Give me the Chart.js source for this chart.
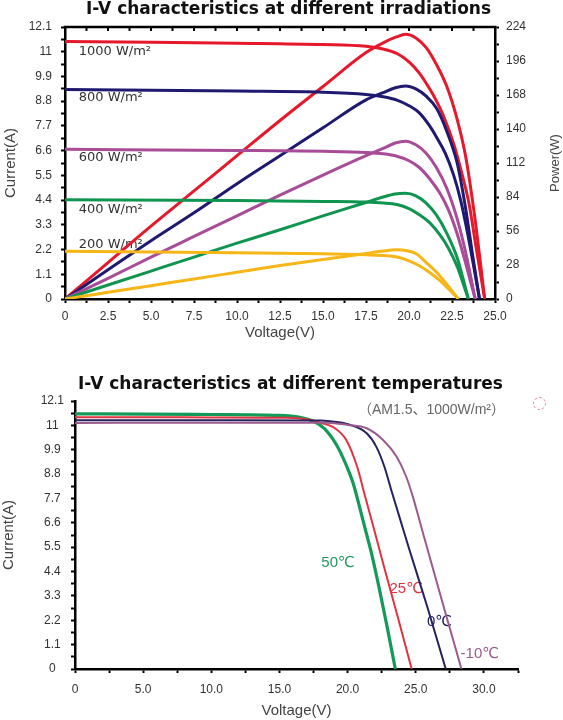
<!DOCTYPE html>
<html><head><meta charset="utf-8">
<script src="https://cdn.jsdelivr.net/npm/chart.js@4.4.1/dist/chart.umd.min.js"></script>
<style>
html,body{margin:0;padding:0;background:#fff;}
#wrap{position:relative;width:563px;height:720px;overflow:hidden;background:#fff;}
.title{position:absolute;left:0;width:563px;box-sizing:border-box;text-align:center;font-weight:bold;font-size:17px;font-family:'DejaVu Sans',sans-serif;line-height:17px;color:#111;white-space:nowrap;}
#t1{top:0;padding-left:14px;}
#t2{top:375px;padding-left:18px;}
#sub{position:absolute;left:358px;top:401px;font-size:14px;line-height:16px;font-family:'Liberation Sans','Noto Sans CJK SC',sans-serif;color:#666;white-space:nowrap;}
#circ{position:absolute;left:533px;top:397px;width:11px;height:11px;border:1px dashed #e58a98;border-radius:50%;}
canvas{position:absolute;left:0;}
#c1{top:0;} #c2{top:345px;}
</style></head>
<body><div id="wrap">
<canvas id="c1" width="563" height="345"></canvas>
<canvas id="c2" width="563" height="375"></canvas>
<div class="title" id="t1">I-V characteristics at different irradiations</div>
<div class="title" id="t2">I-V characteristics at different temperatures</div>
<div id="sub">（AM1.5、1000W/m²）</div>
<div id="circ"></div>
</div>
<script>
// ---------- Tick labels ----------
const voltTicks1 = ['0','2.5','5.0','7.5','10.0','12.5','15.0','17.5','20.0','22.5','25.0'];
const currTicks  = ['0','1.1','2.2','3.3','4.4','5.5','6.6','7.7','8.8','9.9','11','12.1'];
const powerTicks = ['0','28','56','84','112','140','168','196','224'];
const voltTicks2 = ['0','5.0','10.0','15.0','20.0','25.0','30.0'];

// ---------- Chart 1: irradiation, current (A) ----------
const v1000 = [0,5,10,15,17.5,18.5,19.3,20,20.6,21.2,21.6,22,22.6,23,23.5,23.9,24.15,24.4];
const i1000 = [11.45,11.42,11.38,11.32,11.24,11.12,10.92,10.55,10.05,9.35,8.8,8.15,6.9,5.8,4.2,2.3,1.15,0];
const v800  = [0,10,15,17.5,18.5,19.3,20,20.6,21.2,21.6,22.1,22.6,23,23.4,23.75,24.1];
const i800  = [9.32,9.25,9.2,9.1,9.0,8.85,8.6,8.28,7.7,7.2,6.5,5.5,4.4,2.95,1.5,0];
const v600  = [0,10,15,17.5,18.5,19.3,20,20.6,21.2,21.8,22.3,22.8,23.2,23.5,23.85];
const i600  = [6.66,6.61,6.57,6.52,6.46,6.35,6.15,5.85,5.35,4.7,3.95,2.9,1.85,1.0,0];
const v400  = [0,10,15,17.5,18.5,19.3,20,20.6,21.2,21.8,22.3,22.8,23.1,23.45];
const i400  = [4.41,4.38,4.34,4.31,4.27,4.2,4.02,3.75,3.4,2.85,2.25,1.45,0.8,0];
const v200  = [0,10,15,17.5,18.5,19.3,20,20.6,21.2,21.8,22.3,22.87];
const i200  = [2.12,2.06,2.01,1.97,1.93,1.87,1.7,1.48,1.18,0.82,0.45,0];

// ---------- Chart 1: irradiation, power (W) ----------
const pv1000 = [0,2.5,5,7.5,10,12.5,15,17.5,18.5,19.3,19.8,20.4,21,21.6,22.2,22.8,23.3,23.8,24.1,24.4];
const p1000  = [0,30,60,89,118,147,175,203,211,216,218,215,207,193,175,148,117,70,36,0];
const pv800  = [0,2.5,5,7.5,10,12.5,15,17.5,18.5,19.2,19.8,20.4,21,21.6,22.2,22.8,23.3,23.7,24.1];
const p800   = [0,24,48,71,95,118,141,164,170,174,175.5,173,167,157,138,112,74,36,0];
const pv600  = [0,2.5,5,7.5,10,12.5,15,17.5,18.5,19.2,19.8,20.4,21,21.6,22.2,22.8,23.3,23.85];
const p600   = [0,17,34.5,51.5,68.5,85.5,102,118,124,128.5,130,127,120,108,91,66,38,0];
const pv400  = [0,2.5,5,7.5,10,12.5,15,17.5,18.5,19.2,19.8,20.4,21,21.6,22.2,22.8,23.1,23.45];
const p400   = [0,11.5,23,34.5,46,57,68.5,79.5,84,86.5,87,85,79,69,54,34,19,0];
const pv200  = [0,2.5,5,7.5,10,12.5,15,17.5,18.5,19.3,19.8,20.4,21,21.6,22.2,22.87];
const p200   = [0,5.5,11,16.5,22,27.5,32.5,37.5,39.5,40.5,40,37.5,30,22,12,0];

const irrLabels = ['1000 W/m²','800 W/m²','600 W/m²','400 W/m²','200 W/m²'];
const irrLabelV = [0.8,0.8,0.8,0.8,0.8];
const irrLabelI = [10.99,8.94,6.27,3.96,2.40];

// ---------- Chart 2: temperature, current (A) ----------
const vT50  = [0,5,10,15,16.5,17.5,18.3,19.2,19.9,20.4,20.8,21.3,21.8,22.3,22.9,23.5];
const iT50  = [11.52,11.51,11.49,11.45,11.36,11.18,10.85,10.1,9.2,8.4,7.5,6.3,5.1,3.7,1.9,0];
const vT25  = [0,5,10,15.6,17.2,18.0,18.95,19.9,20.7,21.3,21.9,22.7,23.7,24.7];
const iT25  = [11.37,11.37,11.36,11.34,11.25,11.12,10.92,10.34,9.13,7.75,6.4,4.55,2.3,0];
const vT0   = [0,10,18,19.2,20.2,21.4,22.1,22.7,23.2,23.8,24.5,25.9,27.2];
const iT0   = [11.23,11.23,11.22,11.15,11.02,10.64,10.04,9.13,8.08,6.87,5.45,2.7,0];
const vTm10 = [0,10,18.5,20,21.4,22.6,23.6,24.3,24.8,25.3,26.0,27.1,28.35];
const iTm10 = [11.11,11.12,11.12,11.02,10.87,10.34,9.58,8.68,7.75,6.65,5.1,2.7,0];

const tempLabels = ['50℃','25℃','0℃','-10℃'];
const tempLabelV = [19.3,24.3,26.75,29.7];
const tempLabelI = [4.8,3.64,2.14,0.68];

// ---------- helpers ----------
const FONT = "'Liberation Sans', Arial, sans-serif";
function pts(xs, ys){ return xs.map((x,i)=>({x:x, y:ys[i]})); }
function ds(xs, ys, color, w, axis){
  return {data: pts(xs,ys), borderColor: color, borderWidth: w, pointRadius: 0,
          fill: false, cubicInterpolationMode: 'monotone', yAxisID: axis || 'y'};
}
function withMinor(labels, extra){
  const maj = labels.map(Number);
  const vals = [];
  for (let i=0;i<maj.length;i++){
    vals.push(maj[i]);
    if (i<maj.length-1) vals.push((maj[i]+maj[i+1])/2);
  }
  (extra||[]).forEach(v=>vals.push(v));
  return {vals: vals, maj: maj};
}
function tickCfg(labels, extra){
  const t = withMinor(labels, extra);
  return {
    after: s => { s.ticks = t.vals.map(v=>({value:v})); },
    cb: v => { const k = t.maj.findIndex(m=>Math.abs(m-v)<1e-6); return k>=0 ? labels[k] : ''; }
  };
}
function axis(o){
  const tc = tickCfg(o.labels, o.extra);
  const a = {
    type: 'linear', position: o.pos, min: o.min, max: o.max,
    afterBuildTicks: tc.after,
    afterFit: s => { if (o.w) s.width = o.w; if (o.h) s.height = o.h; },
    ticks: {callback: tc.cb, autoSkip: false, maxRotation: 0, color: '#333',
            font: {family: FONT, size: 12}, padding: o.pad, crossAlign: o.cross || 'near'},
    grid: {drawOnChartArea: false, drawTicks: true, tickLength: 4, tickColor: '#000', tickWidth: 2},
    border: {display: true, color: '#000', width: 2.5}
  };
  if (o.title) a.title = {display: true, text: o.title, color: '#444',
        font: {family: FONT, size: 15}, padding: o.tpad};
  return a;
}

const frameTop = {
  id: 'frameTop',
  afterDraw(chart){
    const {ctx, chartArea: a, scales: {x}} = chart;
    ctx.save();
    ctx.strokeStyle = '#000'; ctx.lineWidth = 2.5;
    ctx.beginPath(); ctx.moveTo(a.left-1.25, a.top); ctx.lineTo(a.right+1.25, a.top); ctx.stroke();
    ctx.lineWidth = 2;
    x.ticks.forEach(t => { const px = x.getPixelForValue(t.value);
      ctx.beginPath(); ctx.moveTo(px, a.top); ctx.lineTo(px, a.top+4); ctx.stroke(); });
    ctx.translate(chart.width - 8, (a.top + a.bottom)/2);
    ctx.rotate(-Math.PI/2);
    ctx.fillStyle = '#444'; ctx.font = "13px " + FONT;
    ctx.textAlign = 'center'; ctx.textBaseline = 'middle';
    ctx.fillText('Power(W)', 0, 0);
    ctx.restore();
  }
};
const irrText = {
  id: 'irrText',
  beforeDatasetsDraw(chart){
    const {ctx, scales: {x, y}} = chart;
    ctx.save();
    ctx.font = "13px 'DejaVu Sans', sans-serif"; ctx.fillStyle = '#333';
    ctx.textAlign = 'left'; ctx.textBaseline = 'middle';
    irrLabels.forEach((t,i) => ctx.fillText(t, x.getPixelForValue(irrLabelV[i]), y.getPixelForValue(irrLabelI[i])));
    ctx.restore();
  }
};
const tempColors = ['#1f9a5e','#e23340','#25235f','#9a5b8d'];
const tempText = {
  id: 'tempText',
  beforeDatasetsDraw(chart){
    const {ctx, scales: {x, y}} = chart;
    ctx.save();
    ctx.font = "15px 'Liberation Sans', 'DejaVu Sans', sans-serif";
    ctx.textAlign = 'center'; ctx.textBaseline = 'middle';
    tempLabels.forEach((t,i) => { ctx.fillStyle = tempColors[i];
      ctx.fillText(t, x.getPixelForValue(tempLabelV[i]), y.getPixelForValue(tempLabelI[i])); });
    ctx.restore();
  }
};

const RED = '#e5192b', NAVY = '#1f1a70', PURP = '#a84c98', GREEN = '#109550', YEL = '#f6b618';

new Chart(document.getElementById('c1'), {
  type: 'line',
  data: { datasets: [
    ds(v200, i200, YEL, 3), ds(pv200, p200, YEL, 3, 'y1'),
    ds(v400, i400, GREEN, 3), ds(pv400, p400, GREEN, 3, 'y1'),
    ds(v600, i600, PURP, 3), ds(pv600, p600, PURP, 3, 'y1'),
    ds(v800, i800, NAVY, 3), ds(pv800, p800, NAVY, 3, 'y1'),
    ds(v1000, i1000, RED, 3), ds(pv1000, p1000, RED, 3, 'y1')
  ]},
  options: {
    responsive: false, animation: false, devicePixelRatio: 1,
    layout: {padding: {top: 27, left: 0, right: 0, bottom: 0}},
    plugins: {legend: {display: false}, tooltip: {enabled: false}, title: {display: false}},
    scales: {
      x: axis({pos: 'bottom', min: 0, max: 25, labels: voltTicks1, h: 46, pad: 6,
               title: 'Voltage(V)', tpad: {top: 0, bottom: 3}}),
      y: axis({pos: 'left', min: 0, max: 12.1, labels: currTicks, w: 65, pad: 9,
               title: 'Current(A)', tpad: {top: 2, bottom: 0}}),
      y1: axis({pos: 'right', min: 0, max: 224, labels: powerTicks, w: 68, pad: 7})
    }
  },
  plugins: [frameTop, irrText]
});

new Chart(document.getElementById('c2'), {
  type: 'line',
  data: { datasets: [
    ds(vTm10, iTm10, '#9a5b8d', 2),
    ds(vT0, iT0, '#25235f', 2),
    ds(vT25, iT25, '#e23340', 2),
    ds(vT50, iT50, '#139a58', 3.2)
  ]},
  options: {
    responsive: false, animation: false, devicePixelRatio: 1,
    layout: {padding: {top: 56, left: 0, right: 45, bottom: 0}},
    plugins: {legend: {display: false}, tooltip: {enabled: false}, title: {display: false}},
    scales: {
      x: axis({pos: 'bottom', min: 0, max: 32.5, labels: voltTicks2, extra: [32.5], h: 51, pad: 9,
               title: 'Voltage(V)', tpad: {top: 0, bottom: 0}}),
      y: axis({pos: 'left', min: 0, max: 12.1, labels: currTicks, w: 75, pad: 7, cross: 'center',
               title: 'Current(A)', tpad: {top: 0, bottom: 0}})
    }
  },
  plugins: [tempText]
});
</script>
</body></html>
